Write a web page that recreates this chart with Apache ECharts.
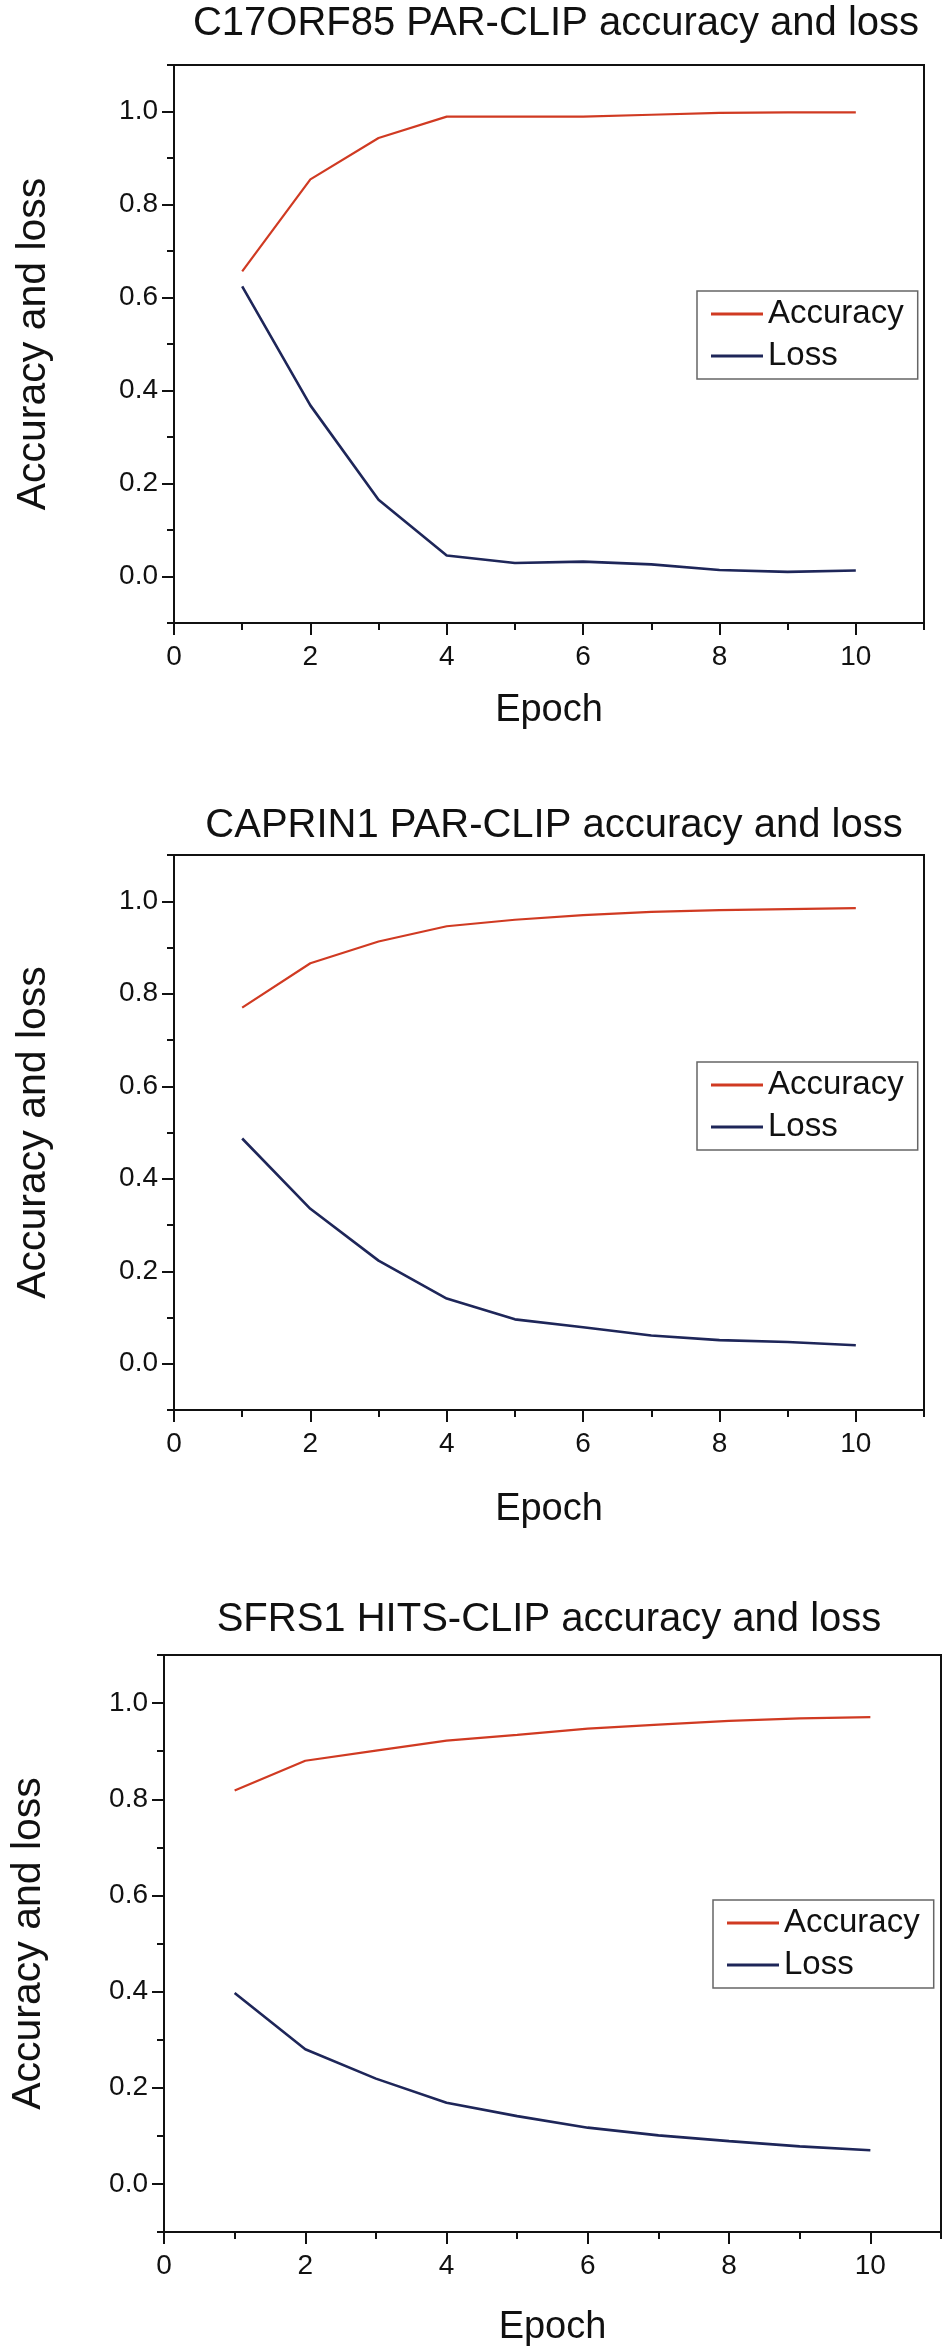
<!DOCTYPE html>
<html><head><meta charset="utf-8">
<script src="https://cdn.jsdelivr.net/npm/echarts@6/dist/echarts.min.js"></script>
<style>html,body{margin:0;padding:0;background:#fff}#c{width:944px;height:2348px}</style>
</head><body><div id="c"></div>
<script>
// ---------- data ----------
const epochs = [1, 2, 3, 4, 5, 6, 7, 8, 9, 10];
const titles = [
  'C17ORF85 PAR-CLIP accuracy and loss',
  'CAPRIN1 PAR-CLIP accuracy and loss',
  'SFRS1 HITS-CLIP accuracy and loss'
];
const seriesNames = ['Accuracy', 'Loss'];
const accC17ORF85 = [0.656, 0.854, 0.943, 0.989, 0.989, 0.989, 0.993, 0.997, 0.998, 0.998];
const lossC17ORF85 = [0.624, 0.368, 0.165, 0.045, 0.029, 0.032, 0.026, 0.014, 0.010, 0.013];
const accCAPRIN1 = [0.770, 0.866, 0.913, 0.946, 0.960, 0.970, 0.977, 0.981, 0.983, 0.985];
const lossCAPRIN1 = [0.487, 0.335, 0.223, 0.141, 0.096, 0.079, 0.061, 0.051, 0.047, 0.040];
const accSFRS1 = [0.818, 0.880, 0.901, 0.922, 0.934, 0.947, 0.955, 0.963, 0.968, 0.971];
const lossSFRS1 = [0.397, 0.280, 0.219, 0.169, 0.141, 0.117, 0.101, 0.089, 0.078, 0.070];
const xMajorTicks = [0, 2, 4, 6, 8, 10];
const xMinorTicks = [1, 3, 5, 7, 9, 11];
const yMajorTicks = [0, 0.2, 0.4, 0.6, 0.8, 1.0];
const yMinorTicks = [-0.1, 0.1, 0.3, 0.5, 0.7, 0.9, 1.1];
const xAxisTitle = 'Epoch';
const yAxisTitle = 'Accuracy and loss';

// ---------- layout ----------
const panels = [
  { acc: accC17ORF85, loss: lossC17ORF85, grid: {left: 174, top: 65, width: 750, height: 558},
    titleX: 556, titleY: 24, xNameGap: 69, yNameGap: 120, legend: {left: 697, top: 291} },
  { acc: accCAPRIN1, loss: lossCAPRIN1, grid: {left: 174, top: 855, width: 750, height: 555},
    titleX: 554, titleY: 826, xNameGap: 81, yNameGap: 120, legend: {left: 697, top: 1062} },
  { acc: accSFRS1, loss: lossSFRS1, grid: {left: 162, top: 1655, width: 779, height: 580},
    titleX: 549, titleY: 1620, xNameGap: 77, yNameGap: 115, legend: {left: 713, top: 1900} }
];

const FONT = '"Liberation Sans", Arial, sans-serif';
const RED = '#d03a22';
const NAVY = '#1e2659';

const option = {
  backgroundColor: '#fff',
  animation: false,
  title: [], grid: [], xAxis: [], yAxis: [], series: [], legend: []
};

panels.forEach((p, i) => {
  option.title.push({
    text: titles[i], left: p.titleX, top: p.titleY - 20, textAlign: 'center', padding: 0,
    textStyle: {fontFamily: FONT, fontSize: 40, fontWeight: 'normal', color: '#111', lineHeight: 40}
  });
  option.grid.push(Object.assign({show: true, borderColor: '#111', borderWidth: 2, backgroundColor: 'transparent'}, p.grid));
  // major x axis
  option.xAxis.push({
    type: 'value', gridIndex: i, min: 0, max: 11, position: 'bottom',
    name: xAxisTitle, nameLocation: 'middle', nameGap: p.xNameGap,
    nameTextStyle: {fontFamily: FONT, fontSize: 38, color: '#111'},
    axisLine: {show: true, onZero: false, lineStyle: {color: '#111', width: 2}},
    axisTick: {show: true, inside: false, length: 12, lineStyle: {color: '#111', width: 2}, customValues: xMajorTicks},
    axisLabel: {fontFamily: FONT, fontSize: 28, color: '#111', margin: 20, customValues: xMajorTicks},
    splitLine: {show: false}
  });
  // minor x axis
  option.xAxis.push({
    type: 'value', gridIndex: i, min: 0, max: 11, position: 'bottom', offset: 0,
    axisLine: {show: false, onZero: false},
    axisTick: {show: true, inside: false, length: 7, lineStyle: {color: '#111', width: 2}, customValues: xMinorTicks},
    axisLabel: {show: false}, splitLine: {show: false}
  });
  option.yAxis.push({
    type: 'value', gridIndex: i, min: -0.1, max: 1.1, position: 'left',
    name: yAxisTitle, nameLocation: 'middle', nameGap: p.yNameGap, nameRotate: 90,
    nameTextStyle: {fontFamily: FONT, fontSize: 41, color: '#111'},
    axisLine: {show: true, onZero: false, lineStyle: {color: '#111', width: 2}},
    axisTick: {show: true, inside: false, length: 12, lineStyle: {color: '#111', width: 2}, customValues: yMajorTicks},
    axisLabel: {fontFamily: FONT, fontSize: 28, color: '#111', margin: 16, customValues: yMajorTicks,
      formatter: v => v.toFixed(1)},
    splitLine: {show: false}
  });
  option.yAxis.push({
    type: 'value', gridIndex: i, min: -0.1, max: 1.1, position: 'left', offset: 0,
    axisLine: {show: false, onZero: false},
    axisTick: {show: true, inside: false, length: 7, lineStyle: {color: '#111', width: 2}, customValues: yMinorTicks},
    axisLabel: {show: false}, splitLine: {show: false}
  });
  [p.acc, p.loss].forEach((vals, k) => {
    option.series.push({
      type: 'line', name: seriesNames[k], xAxisIndex: 2 * i, yAxisIndex: 2 * i,
      data: epochs.map((e, j) => [e, vals[j]]),
      symbol: 'none', showSymbol: false,
      lineStyle: {color: k === 0 ? RED : NAVY, width: k === 0 ? 2.2 : 2.6},
      itemStyle: {color: k === 0 ? RED : NAVY}
    });
  });
  option.legend.push({
    data: seriesNames, left: p.legend.left, top: p.legend.top, orient: 'vertical',
    icon: 'rect', itemWidth: 52, itemHeight: 3, itemGap: 2,
    padding: [3, 14, 3, 14], borderColor: '#666', borderWidth: 1.5, backgroundColor: '#fff',
    textStyle: {fontFamily: FONT, fontSize: 33, color: '#111', lineHeight: 40},
    selectedMode: false
  });
});

const chart = echarts.init(document.getElementById('c'), null, {renderer: 'canvas'});
chart.setOption(option);
</script>
</body></html>
